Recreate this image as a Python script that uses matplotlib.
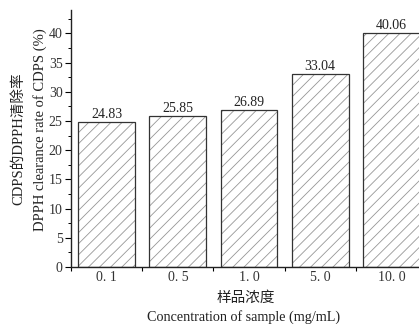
import matplotlib
matplotlib.use("Agg")
import matplotlib.pyplot as plt
from matplotlib.ticker import MultipleLocator

plt.rcParams['font.family'] = ['Liberation Serif', 'Noto Sans CJK SC']
plt.rcParams['hatch.linewidth'] = 0.6

# data
concentrations = ["0. 1", "0. 5", "1. 0", "5. 0", "10. 0"]
clearance = [24.83, 25.85, 26.89, 33.04, 40.06]

W, H = 419, 324
fig = plt.figure(figsize=(W / 100, H / 100), dpi=100)
ax = fig.add_axes([0.1695, 0.176, 0.8496, 0.793])

pos = list(range(len(concentrations)))
# hatch layer in grey, outline layer in dark grey
ax.bar(pos, clearance, width=0.8, color="white", edgecolor="#969696",
       hatch="///", linewidth=0)
bars = ax.bar(pos, clearance, width=0.8, color="none", edgecolor="#333333",
              linewidth=0.9)
ax.bar_label(bars, labels=[f"{v:.2f}" for v in clearance], padding=1,
             fontsize=10, color="#222222")

ax.set_xlim(-0.5, 4.5)
ax.set_ylim(0, 44)
ax.set_xticks([p + 0.5 for p in pos[:-1]] + [-0.5])
ax.set_xticklabels([])
ax.set_xticks(pos, minor=True)
ax.set_xticklabels(concentrations, minor=True, fontsize=10, color="#333333")
ax.tick_params(axis="x", which="major", length=3, width=0.8)
ax.tick_params(axis="x", which="minor", length=0, pad=3)

ax.yaxis.set_major_locator(MultipleLocator(5))
ax.yaxis.set_minor_locator(MultipleLocator(2.5))
ax.tick_params(axis="y", which="major", length=4, width=0.8, labelsize=10,
               labelcolor="#333333", pad=2)
ax.tick_params(axis="y", which="minor", length=2, width=0.7)

for side in ["top", "right"]:
    ax.spines[side].set_visible(False)
for side in ["left", "bottom"]:
    ax.spines[side].set_linewidth(1.0)
    ax.spines[side].set_color("#222222")

# axis titles, two lines each (Chinese + English)
fig.text(18 / W, 1 - 139 / H, "CDPS的DPPH清除率", rotation=90,
         ha="center", va="center", fontsize=10.5, color="#222222")
fig.text(40 / W, 1 - 130 / H, "DPPH clearance rate of CDPS (%)", rotation=90,
         ha="center", va="center", fontsize=10.5, color="#222222")
fig.text(246 / W, 1 - 298 / H, "样品浓度",
         ha="center", va="center", fontsize=10.5, color="#222222")
fig.text(244 / W, 1 - 317 / H, "Concentration of sample (mg/mL)",
         ha="center", va="center", fontsize=10.2, color="#222222")

fig.savefig("out.png", dpi=100, facecolor="white")
